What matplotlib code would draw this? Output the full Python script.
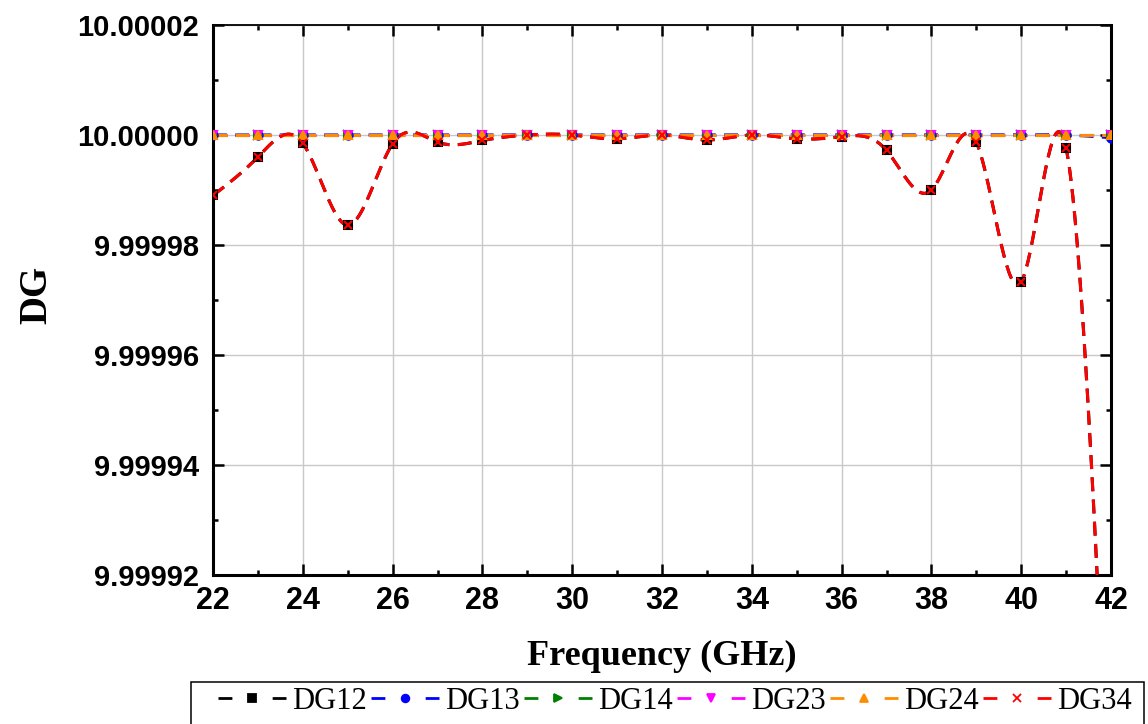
import numpy as np
import matplotlib
matplotlib.use("Agg")
import matplotlib.pyplot as plt
from matplotlib.lines import Line2D
from matplotlib.patches import Rectangle
from matplotlib.ticker import MultipleLocator, FormatStrFormatter

# ---- data ----
freq = [22, 23, 24, 25, 26, 27, 28, 29, 30, 31, 32, 33, 34, 35, 36, 37, 38, 39, 40, 41, 42]
dg12 = [9.999989, 9.999996, 9.9999985, 9.9999836, 9.9999984, 9.9999987, 9.999999,
        10.0, 10.0, 9.9999993, 10.0, 9.9999991, 10.0, 9.9999993, 9.9999997,
        9.9999972, 9.99999, 9.9999987, 9.9999733, 9.9999976, 9.999867]
dg13 = [10.0] * 20 + [9.9999995]
dg14 = [10.0] * 21
dg23 = [10.0] * 21
dg24 = [10.0] * 21
dg34 = list(dg12)

labels = ["DG12", "DG13", "DG14", "DG23", "DG24", "DG34"]
series = [dg12, dg13, dg14, dg23, dg24, dg34]
colors = ["black", "blue", "green", "magenta", "darkorange", "red"]
markers = ["s", "o", ">", "v", "^", "x"]
xticks = [22, 24, 26, 28, 30, 32, 34, 36, 38, 40, 42]
yticks = [9.99992, 9.99994, 9.99996, 9.99998, 10.00000, 10.00002]


def natural_spline(x, y, xs):
    x = np.asarray(x, float)
    y = np.asarray(y, float)
    n = len(x)
    h = np.diff(x)
    A = np.zeros((n, n))
    b = np.zeros(n)
    A[0, 0] = 1
    A[-1, -1] = 1
    for i in range(1, n - 1):
        A[i, i - 1] = h[i - 1]
        A[i, i] = 2 * (h[i - 1] + h[i])
        A[i, i + 1] = h[i]
        b[i] = 3 * ((y[i + 1] - y[i]) / h[i] - (y[i] - y[i - 1]) / h[i - 1])
    c = np.linalg.solve(A, b)
    out = np.empty_like(xs)
    for k, t in enumerate(xs):
        i = min(max(np.searchsorted(x, t) - 1, 0), n - 2)
        bi = (y[i + 1] - y[i]) / h[i] - h[i] * (2 * c[i] + c[i + 1]) / 3
        di = (c[i + 1] - c[i]) / (3 * h[i])
        dx = t - x[i]
        out[k] = y[i] + bi * dx + c[i] * dx ** 2 + di * dx ** 3
    return out


plt.rcParams['lines.scale_dashes'] = False
W, H = 1148, 724
fig = plt.figure(figsize=(W / 100, H / 100), dpi=100)
ax = fig.add_axes([213 / W, 1 - 575 / H, (1111 - 213) / W, (575 - 25) / H])

xs = np.linspace(freq[0], freq[-1], 800)
dash = (0, (10, 6))
handles = []
for lab, s, c, m in zip(labels, series, colors, markers):
    ys = natural_spline(freq, s, xs)
    ax.plot(xs, ys, color=c, lw=2.2, linestyle=dash, zorder=3)
    ax.plot(freq, s, linestyle='none', marker=m, color=c, ms=6,
            mec=c, mfc=c, mew=1.5, zorder=4)
    handles.append(Line2D([0], [0], color=c, lw=2.0, linestyle=(0, (10, 29)),
                          marker=m, ms=5.5, mew=1.3))

ax.set_xlim(22, 42)
ax.set_ylim(9.99992, 10.00002)
ax.set_xticks(xticks)
ax.set_yticks(yticks)
ax.yaxis.set_major_formatter(FormatStrFormatter('%.5f'))
ax.xaxis.set_minor_locator(MultipleLocator(1))
ax.yaxis.set_minor_locator(MultipleLocator(0.00001))
ax.grid(True, which='major', color='#c8c8c8', lw=1)
ax.set_axisbelow(True)
ax.tick_params(which='both', direction='in', top=True, right=True, width=1.8)
ax.tick_params(which='major', length=8)
ax.tick_params(which='minor', length=3.5)
ax.tick_params(axis='x', which='major', pad=8)
ax.tick_params(axis='y', which='major', pad=10)
for lab in ax.get_xticklabels():
    lab.set_fontfamily('Liberation Sans')
    lab.set_fontweight('bold')
    lab.set_fontsize(22)
for lab in ax.get_yticklabels():
    lab.set_fontfamily('Liberation Sans')
    lab.set_fontweight('bold')
    lab.set_fontsize(21)
for sp in ['left', 'bottom', 'right']:
    ax.spines[sp].set_linewidth(2.2)
ax.spines['top'].set_linewidth(1.3)

ax.set_xlabel('Frequency (GHz)', fontfamily='Liberation Serif', fontweight='bold',
              fontsize=26)
ax.xaxis.label.set_va('baseline')
ax.xaxis.set_label_coords(0.5, (575 - 665) / 550)
ax.set_ylabel('DG', fontfamily='Liberation Serif', fontweight='bold', fontsize=28)
ax.yaxis.label.set_va('center')
ax.yaxis.label.set_ha('center')
ax.yaxis.set_label_coords((37 - 213) / 898, (575 - 294.5) / 550)

leg = fig.legend(handles, labels, loc='center left', ncol=6,
                 bbox_to_anchor=(218 / W, 1 - 701.5 / H),
                 prop={'family': 'Liberation Serif', 'size': 22},
                 handlelength=2.22, handletextpad=0.22, columnspacing=0.12,
                 borderpad=0, borderaxespad=0, frameon=False, numpoints=1)

fig.patches.append(Rectangle((191 / W, -0.02), (1144 - 191) / W, (724 - 682) / H + 0.02,
                             transform=fig.transFigure, fill=False,
                             edgecolor='black', lw=1.1))

fig.savefig('out.png', dpi=100)
